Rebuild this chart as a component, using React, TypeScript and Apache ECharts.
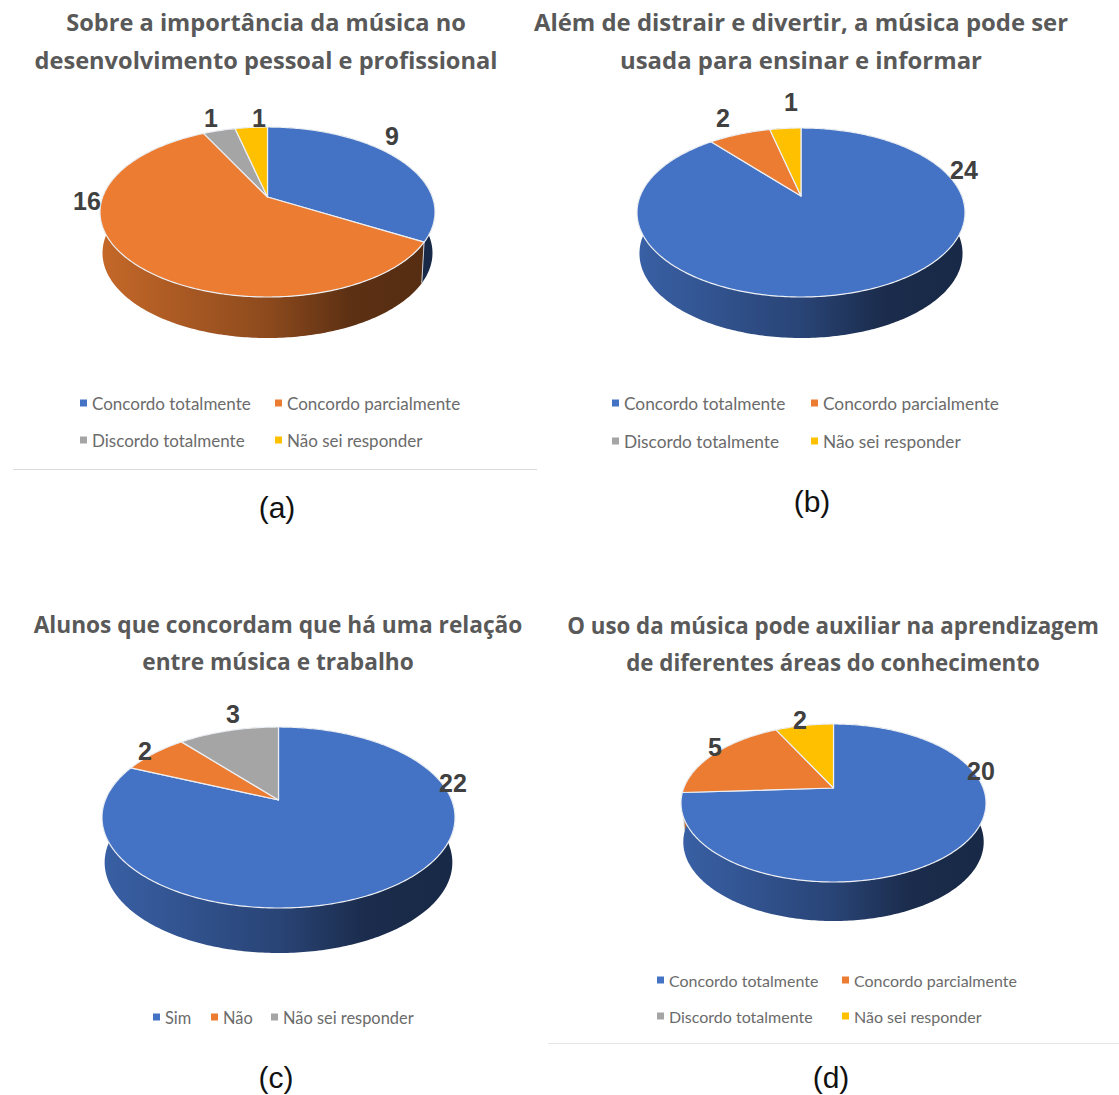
import React, { useEffect, useRef } from "react";
import * as echarts from "echarts";

// Survey answers, one list per chart, in clockwise slice order from twelve o'clock.
const answersFour = ["Concordo totalmente", "Concordo parcialmente", "Discordo totalmente", "Não sei responder"];
const answersThree = ["Sim", "Não", "Não sei responder"];

const valuesA = [9, 16, 1, 1];
const valuesB = [24, 2, 0, 1];
const valuesC = [22, 2, 3];
const valuesD = [20, 5, 0, 2];

const titleA = "Sobre a importância da música no\ndesenvolvimento pessoal e profissional";
const titleB = "Além de distrair e divertir, a música pode ser\nusada para ensinar e informar";
const titleC = "Alunos que concordam que há uma relação\nentre música e trabalho";
const titleD = "O uso da música pode auxiliar na aprendizagem\nde diferentes áreas do conhecimento";

const fourColors = ["#4472C4", "#EB7C31", "#A5A5A5", "#FFC000"];
const threeColors = ["#4472C4", "#EB7C31", "#A5A5A5"];

const TITLE_FONT = '"Open Sans", "Noto Sans", sans-serif';
const LEGEND_FONT = 'Lato, "Noto Sans", sans-serif';
const ARIAL = '"Liberation Sans", Arial, sans-serif';

// Geometry of each tilted pie: apex, top-face extents, rim depth, plus text anchors and sizes.
const panels = [
  {
    caption: "(a)", captionAt: [277, 507], title: titleA, titleAt: [266, 22], titleSize: 23.6, titleLine: 38,
    answers: answersFour, values: valuesA, colors: fourColors,
    cx: 267.5, apexY: 197, top: 127, bottom: 297, rx: 167.5, depth: 41,
    labelAt: [[392, 136], [87, 201], [211, 118], [259, 118]],
    legendSize: 17,
    legendAt: [[80, 404], [275, 404], [80, 441], [275, 441]],
  },
  {
    caption: "(b)", captionAt: [812, 501], title: titleB, titleAt: [801, 21], titleSize: 23.9, titleLine: 38,
    answers: answersFour, values: valuesB, colors: fourColors,
    cx: 801, apexY: 196, top: 128, bottom: 297, rx: 164, depth: 41,
    labelAt: [[964, 170], [723, 118], null, [791, 102]],
    legendSize: 17.3,
    legendAt: [[612, 404], [811, 404], [612, 442], [811, 442]],
  },
  {
    caption: "(c)", captionAt: [276, 1077], title: titleC, titleAt: [278, 624], titleSize: 22.7, titleLine: 37,
    answers: answersThree, values: valuesC, colors: threeColors,
    cx: 278.5, apexY: 800, top: 727, bottom: 908, rx: 176.5, depth: 45,
    labelAt: [[453, 783], [145, 751], [233, 714]],
    legendSize: 16.4,
    legendAt: [[153, 1018], [211, 1018], [271, 1018]],
  },
  {
    caption: "(d)", captionAt: [831, 1077], title: titleD, titleAt: [833, 625], titleSize: 22.3, titleLine: 37,
    answers: answersFour, values: valuesD, colors: fourColors,
    cx: 833.5, apexY: 788, top: 724, bottom: 882, rx: 152.5, depth: 39,
    labelAt: [[981, 771], [715, 747], null, [800, 720]],
    legendSize: 16,
    legendAt: [[657, 981], [842, 981], [657, 1017], [842, 1017]],
  },
];

const WALL_INSET = 0.985;

function shade(hex: string, f: number) {
  const n = parseInt(hex.slice(1), 16);
  const ch = (v: number) => Math.round(v * f).toString(16).padStart(2, "0");
  return `#${ch((n >> 16) & 255)}${ch((n >> 8) & 255)}${ch(n & 255)}`;
}

// Perspective projection of a unit disc onto the tilted top face.
function projector(p: (typeof panels)[number]) {
  const t = p.apexY - p.top;
  const d = p.bottom - p.apexY;
  const k = (d - t) / (d + t);
  const B = t * (1 + k);
  const A = p.rx * Math.sqrt(1 - k * k);
  return (angle: number): [number, number] => {
    const x = Math.sin(angle);
    const y = Math.cos(angle);
    const w = 1 + k * y;
    return [p.cx + (A * x) / w, p.apexY - (B * y) / w];
  };
}

function sliceSeries(p: (typeof panels)[number]) {
  const rim = projector(p);
  const total = p.values.reduce((s, v) => s + v, 0);
  let running = 0;
  return p.answers.map((name, i) => {
    const before = running;
    running += p.values[i];
    const color = p.colors[i];
    return {
      type: "custom",
      name,
      coordinateSystem: "none",
      silent: true,
      itemStyle: { color },
      data: [[p.values[i], before, total]],
      renderItem: (_params: unknown, api: any) => {
        const value = api.value(0);
        if (!value) return { type: "group", children: [] };
        const a0 = (api.value(1) / api.value(2)) * Math.PI * 2;
        const a1 = a0 + (value / api.value(2)) * Math.PI * 2;
        const steps = Math.max(4, Math.ceil((a1 - a0) / 0.015));
        const arc: [number, number][] = [];
        for (let s = 0; s <= steps; s++) arc.push(rim(a0 + ((a1 - a0) * s) / steps));
        const lower = arc.map(([x, y]) => [p.cx + (x - p.cx) * WALL_INSET, y + p.depth]);
        const seamTop = arc[0];
        const seamBottom = lower[0];
        const wallFill = {
          type: "linear", global: true,
          x: p.cx - p.rx, y: 0, x2: p.cx + p.rx, y2: 0,
          colorStops: [
            { offset: 0, color: shade(color, 0.84) },
            { offset: 0.5, color: shade(color, 0.6) },
            { offset: 0.75, color: shade(color, 0.39) },
            { offset: 1, color: shade(color, 0.36) },
          ],
        };
        const children: any[] = [
          {
            type: "polygon", z2: 1,
            shape: { points: [...arc, ...lower.slice().reverse()] },
            style: { fill: wallFill, stroke: "none" },
          },
          {
            type: "line", z2: 2,
            shape: { x1: seamTop[0], y1: seamTop[1], x2: seamBottom[0], y2: seamBottom[1] },
            style: { stroke: "#c9ced6", lineWidth: 1 },
          },
          {
            type: "polygon", z2: 5,
            shape: { points: [[p.cx, p.apexY], ...arc] },
            style: { fill: color, stroke: "#eceff3", lineWidth: 1.2, lineJoin: "round" },
          },
        ];
        const at = p.labelAt[i];
        if (at) {
          children.push({
            type: "text", z2: 10,
            style: {
              x: at[0], y: at[1], text: String(value),
              textAlign: "center", textVerticalAlign: "middle",
              font: `bold 25px ${ARIAL}`, fill: "#404040",
            },
          });
        }
        return { type: "group", children };
      },
    };
  });
}

function legendsOf(p: (typeof panels)[number]) {
  return p.answers.map((name, i) => ({
    data: [{ name, itemStyle: { color: p.colors[i] } }],
    left: p.legendAt[i][0],
    top: p.legendAt[i][1] - 11,
    padding: 0,
    icon: "rect",
    itemWidth: 7,
    itemHeight: 7,
    selectedMode: false,
    textStyle: { fontFamily: LEGEND_FONT, fontSize: p.legendSize, color: "#6b6b6b", lineHeight: 20 },
  }));
}

function titlesOf(p: (typeof panels)[number]) {
  return [
    {
      text: p.title,
      left: p.titleAt[0],
      top: p.titleAt[1] - p.titleLine / 2,
      padding: 0,
      textAlign: "center",
      textStyle: { fontFamily: TITLE_FONT, fontWeight: 700, fontSize: p.titleSize, color: "#595959", lineHeight: p.titleLine },
    },
    {
      text: p.caption,
      left: p.captionAt[0],
      top: p.captionAt[1] - 18,
      padding: 0,
      textAlign: "center",
      textStyle: { fontFamily: ARIAL, fontWeight: "normal", fontSize: 30, color: "#111111", lineHeight: 36 },
    },
  ];
}

export default function App() {
  const ref = useRef<HTMLDivElement>(null);
  useEffect(() => {
    const chart = echarts.init(ref.current!, undefined, { renderer: "svg" });
    chart.setOption({
      animation: false,
      backgroundColor: "#ffffff",
      title: panels.flatMap(titlesOf),
      legend: panels.flatMap(legendsOf),
      graphic: [
        { type: "line", shape: { x1: 13, y1: 469.5, x2: 537, y2: 469.5 }, style: { stroke: "#d9d9d9", lineWidth: 1 } },
        { type: "line", shape: { x1: 548, y1: 1043.5, x2: 1119, y2: 1043.5 }, style: { stroke: "#e6e6e6", lineWidth: 1 } },
      ],
      series: panels.flatMap(sliceSeries),
    });
    return () => chart.dispose();
  }, []);
  return <div ref={ref} style={{ position: "absolute", left: 0, top: 0, width: 1119, height: 1095 }} />;
}
